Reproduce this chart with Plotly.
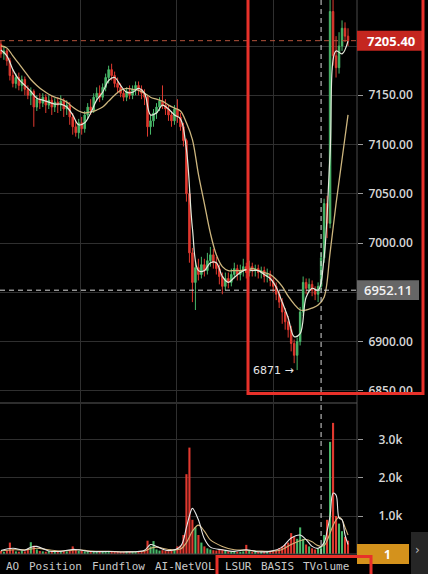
import plotly.graph_objects as go
from plotly.subplots import make_subplots

# ---- candle data (one bar per period) ----
opens = [7202, 7192, 7195, 7185, 7170, 7162, 7168, 7160, 7166, 7156,
         7150, 7154, 7138, 7146, 7142, 7148, 7140, 7145, 7138, 7143,
         7140, 7144, 7136, 7140, 7128, 7118, 7112, 7122, 7116, 7130,
         7138, 7135, 7148, 7152, 7148, 7158, 7168, 7176, 7170, 7162,
         7158, 7152, 7148, 7154, 7150, 7156, 7160, 7156, 7152, 7148,
         7118, 7124, 7132, 7138, 7144, 7140, 7136, 7130, 7124, 7136,
         7128, 7118, 7104, 7050, 6990, 6960, 6975, 6968, 6978, 6972,
         6982, 6988, 6980, 6974, 6966, 6956, 6964, 6960, 6968, 6974,
         6968, 6972, 6976, 6970, 6976, 6972, 6974, 6970, 6972, 6966,
         6968, 6962, 6956, 6948, 6940, 6930, 6920, 6912, 6898, 6886,
         6900, 6930, 6960, 6954, 6958, 6952, 6948, 6956, 6985, 7040,
         7020, 7235, 7190, 7178, 7200, 7218, 7210]
highs = [7206, 7199, 7197, 7188, 7176, 7172, 7173, 7170, 7169, 7160,
         7158, 7156, 7150, 7152, 7152, 7151, 7150, 7149, 7147, 7148,
         7150, 7147, 7145, 7143, 7132, 7124, 7126, 7128, 7134, 7142,
         7146, 7152, 7158, 7160, 7162, 7172, 7180, 7182, 7174, 7168,
         7162, 7156, 7158, 7160, 7160, 7164, 7164, 7160, 7156, 7150,
         7130, 7136, 7142, 7148, 7160, 7146, 7140, 7134, 7140, 7146,
         7132, 7122, 7106, 7054, 6995, 6982, 6984, 6986, 6984, 6990,
         6996, 6994, 6986, 6978, 6970, 6970, 6970, 6974, 6980, 6978,
         6978, 6984, 6980, 6982, 6980, 6978, 6978, 6976, 6976, 6974,
         6972, 6966, 6960, 6952, 6944, 6934, 6926, 6916, 6902, 6904,
         6935, 6966, 6964, 6964, 6962, 6956, 6960, 6990, 7045, 7048,
         7265, 7262, 7210, 7214, 7226, 7224, 7218]
lows = [7188, 7186, 7180, 7165, 7158, 7157, 7155, 7154, 7150, 7146,
        7140, 7118, 7134, 7136, 7138, 7132, 7136, 7130, 7133, 7132,
        7134, 7128, 7130, 7120, 7110, 7108, 7106, 7110, 7112, 7126,
        7130, 7132, 7144, 7143, 7145, 7154, 7162, 7165, 7158, 7152,
        7148, 7144, 7144, 7146, 7146, 7150, 7150, 7146, 7140, 7108,
        7110, 7118, 7126, 7134, 7136, 7130, 7124, 7118, 7120, 7122,
        7114, 7098, 7042, 6980, 6940, 6932, 6962, 6964, 6966, 6968,
        6976, 6974, 6968, 6958, 6948, 6952, 6954, 6956, 6964, 6962,
        6962, 6966, 6964, 6966, 6966, 6966, 6964, 6964, 6960, 6960,
        6956, 6950, 6942, 6934, 6918, 6912, 6904, 6890, 6878, 6871,
        6896, 6926, 6948, 6950, 6946, 6942, 6940, 6952, 6980, 7005,
        7015, 7180, 7168, 7172, 7195, 7204, 7200]
closes = [7192, 7195, 7185, 7170, 7162, 7168, 7160, 7166, 7156, 7150,
          7154, 7138, 7146, 7142, 7148, 7140, 7145, 7138, 7143, 7140,
          7144, 7136, 7140, 7128, 7118, 7112, 7122, 7116, 7130, 7138,
          7135, 7148, 7152, 7148, 7158, 7168, 7176, 7170, 7162, 7158,
          7152, 7148, 7154, 7150, 7156, 7160, 7156, 7152, 7148, 7118,
          7124, 7132, 7138, 7144, 7140, 7136, 7130, 7124, 7136, 7128,
          7118, 7104, 7050, 6990, 6960, 6975, 6968, 6978, 6972, 6982,
          6988, 6980, 6974, 6966, 6956, 6964, 6960, 6968, 6974, 6968,
          6972, 6976, 6970, 6976, 6972, 6974, 6970, 6972, 6966, 6968,
          6962, 6956, 6948, 6940, 6930, 6920, 6912, 6898, 6886, 6900,
          6930, 6960, 6954, 6958, 6952, 6948, 6956, 6985, 7040, 7020,
          7235, 7190, 7178, 7200, 7218, 7210, 7205.40]
volumes = [80, 60, 90, 300, 120, 70, 60, 90, 70, 110,
           310, 220, 120, 80, 70, 60, 80, 70, 60, 70,
           60, 80, 70, 90, 200, 110, 90, 80, 70, 60,
           60, 70, 60, 50, 60, 70, 80, 60, 50, 60,
           50, 60, 50, 60, 50, 60, 50, 70, 80, 350,
           200, 340, 120, 90, 100, 80, 70, 90, 110, 200,
           220, 500, 2100, 2800, 900, 700, 500, 300, 200, 150,
           120, 100, 90, 110, 120, 80, 70, 60, 70, 60,
           60, 70, 240, 80, 60, 60, 50, 60, 70, 60,
           70, 80, 100, 150, 200, 250, 300, 550, 450, 400,
           700, 400, 250, 200, 150, 120, 150, 200, 500, 900,
           2950, 3450, 1000, 800, 600, 450, 350]

# ---- moving averages on price (sampled every other bar) ----
ma_idx = list(range(0, 117, 2))
ma_fast = [7196, 7190, 7176, 7166, 7160, 7154, 7147, 7145, 7143, 7141,
           7141, 7138, 7130, 7120, 7122, 7132, 7145, 7153, 7165, 7168,
           7160, 7153, 7153, 7157, 7152, 7130, 7132, 7140, 7136, 7130,
           7126, 7095, 7015, 6972, 6972, 6980, 6980, 6966, 6960, 6965,
           6970, 6973, 6972, 6972, 6968, 6964, 6955, 6940, 6924, 6905,
           6908, 6945, 6954, 6952, 6985, 7090, 7195, 7192, 7205]
ma_slow = [7200, 7198, 7190, 7182, 7174, 7166, 7160, 7155, 7151, 7148,
           7146, 7143, 7138, 7134, 7132, 7133, 7135, 7138, 7144, 7150,
           7155, 7157, 7156, 7155, 7152, 7148, 7146, 7144, 7140, 7137,
           7134, 7122, 7105, 7070, 7040, 7010, 6988, 6976, 6972, 6972,
           6972, 6973, 6974, 6972, 6970, 6968, 6963, 6956, 6946, 6938,
           6932, 6932, 6934, 6937, 6945, 6990, 7040, 7085, 7130]

# ---- moving averages on volume ----
vma_idx = [0, 4, 8, 10, 12, 16, 20, 24, 26, 30, 36, 42, 48, 50, 52, 56, 60, 62,
           63, 64, 66, 68, 70, 74, 78, 82, 86, 90, 94, 97, 100, 102, 104, 106,
           108, 109, 110, 111, 112, 113, 114, 115, 116]
vma_fast = [90, 150, 100, 180, 200, 80, 70, 120, 110, 65, 65, 55, 100, 250,
            200, 90, 200, 700, 1000, 1200, 900, 400, 180, 110, 70, 110, 60,
            70, 180, 420, 500, 380, 200, 150, 300, 600, 1000, 1600, 1550,
            950, 900, 500, 250]
vma_slow = [80, 110, 110, 130, 150, 110, 80, 100, 110, 80, 70, 60, 80, 150,
            180, 120, 130, 300, 450, 600, 760, 600, 370, 200, 110, 100, 80,
            70, 120, 250, 350, 380, 320, 220, 220, 350, 550, 750, 900, 970,
            900, 700, 500]

# crosshair position
cross_idx = 107
cross_price = 6952.11

# price axis ticks; the ones under the price tags carry no label
price_ticks = [6850, 6900, 6950, 7000, 7050, 7100, 7150, 7200]
price_tick_hidden = [6950, 7200]

# tab labels along the bottom
tab_labels = ["AO", "Position", "Fundflow", "AI-NetVOL", "LSUR", "BASIS", "TVolume"]
tab_x_px = [4, 27, 90, 153, 223, 259, 301]

vol_ticks = [1000, 2000, 3000]
vol_tick_text = ["1.0k", "2.0k", "3.0k"]

GREEN = "#49b86a"
RED = "#e0392f"
idx = list(range(len(closes)))

fig = make_subplots(rows=2, cols=1, shared_xaxes=True, vertical_spacing=0.0)

fig.add_trace(go.Candlestick(
    x=idx, open=opens, high=highs, low=lows, close=closes,
    increasing=dict(line=dict(color=GREEN, width=1), fillcolor=GREEN),
    decreasing=dict(line=dict(color=RED, width=1), fillcolor=RED),
    whiskerwidth=0, showlegend=False, hoverinfo="skip"), row=1, col=1)

fig.add_trace(go.Scatter(x=ma_idx, y=ma_slow, mode="lines",
                         line=dict(color="#cdb67e", width=1.3, shape="spline"),
                         showlegend=False, hoverinfo="skip"), row=1, col=1)
fig.add_trace(go.Scatter(x=ma_idx, y=ma_fast, mode="lines",
                         line=dict(color="#e4eadb", width=1.2, shape="spline"),
                         showlegend=False, hoverinfo="skip"), row=1, col=1)

bar_colors = [GREEN if c >= o else RED for o, c in zip(opens, closes)]
fig.add_trace(go.Bar(x=idx, y=volumes, marker=dict(color=bar_colors, line=dict(width=0)),
                     width=0.7, showlegend=False, hoverinfo="skip"), row=2, col=1)
fig.add_trace(go.Scatter(x=vma_idx, y=vma_slow, mode="lines",
                         line=dict(color="#d2b47a", width=1.1, shape="spline"),
                         showlegend=False, hoverinfo="skip"), row=2, col=1)
fig.add_trace(go.Scatter(x=vma_idx, y=vma_fast, mode="lines",
                         line=dict(color="#e8e8e8", width=1.1, shape="spline"),
                         showlegend=False, hoverinfo="skip"), row=2, col=1)

W, H = 428, 574
PW = 357          # plot width in px
PH = 554          # plot height in px


def px_x(p):
    return p / PW


def px_y(p):
    return (PH - p) / PH


GRID = "#2f2f2f"
x_grid = [26.5, 58.8, 91.0]
fig.update_xaxes(range=[-0.3, 119.0], showticklabels=False, tickvals=x_grid,
                 showgrid=True, gridcolor=GRID, gridwidth=1, zeroline=False,
                 rangeslider_visible=False, showline=False, ticks="")

price_tick_text = ["" if t in price_tick_hidden else f"{t:.2f}" for t in price_ticks]
fig.update_yaxes(domain=[px_y(402), 1.0], range=[6838.6, 7246.7], side="right",
                 tickvals=price_ticks, ticktext=price_tick_text,
                 showgrid=True, gridcolor=GRID,
                 ticks="outside", ticklen=5, tickcolor="#9a9a9a", zeroline=False,
                 tickfont=dict(family="Open Sans", size=12, color="#d6d6d6", weight=600),
                 ticklabelstandoff=3, row=1, col=1)
fig.update_yaxes(domain=[0.0, px_y(404)], range=[0, 3947], side="right",
                 tickvals=vol_ticks, ticktext=vol_tick_text, showgrid=True,
                 gridcolor=GRID, ticks="outside", ticklen=5, tickcolor="#9a9a9a",
                 zeroline=False,
                 tickfont=dict(family="Open Sans", size=12, color="#d6d6d6", weight=600),
                 ticklabelstandoff=13, row=2, col=1)

last_price = closes[-1]
low_price = min(lows)
low_idx = lows.index(low_price)

shapes = [
    # right axis line
    dict(type="line", xref="paper", yref="paper", x0=1, x1=1, y0=0, y1=1,
         line=dict(color="#4a4a4a", width=1)),
    # panel separator
    dict(type="line", xref="paper", yref="paper", x0=0, x1=1, y0=px_y(403), y1=px_y(403),
         line=dict(color="#5a5a5a", width=1)),
    # volume panel bottom
    dict(type="line", xref="paper", yref="paper", x0=0, x1=1, y0=0, y1=0,
         line=dict(color="#4a4a4a", width=1)),
    # last price line
    dict(type="line", xref="paper", yref="y", x0=0, x1=1, y0=last_price, y1=last_price,
         line=dict(color="#b5533c", width=1, dash="5px,4px")),
    # crosshair
    dict(type="line", xref="paper", yref="y", x0=0, x1=1, y0=cross_price, y1=cross_price,
         line=dict(color="#d8d8d8", width=1, dash="5px,4px")),
    dict(type="line", xref="x", yref="paper", x0=cross_idx, x1=cross_idx, y0=0, y1=1,
         line=dict(color="#d8d8d8", width=1, dash="5px,4px")),
    # price tags
    dict(type="rect", xref="paper", yref="y", x0=1.0, x1=px_x(424),
         y0=last_price - 10.2, y1=last_price + 10.2, fillcolor="#c4261f", line=dict(width=0)),
    dict(type="rect", xref="paper", yref="y", x0=1.0, x1=px_x(419),
         y0=cross_price - 10.0, y1=cross_price + 10.0, fillcolor="#666666", line=dict(width=0)),
    # bottom-right controls
    dict(type="rect", xref="paper", yref="paper", x0=1.0, x1=px_x(409),
         y0=px_y(564), y1=px_y(544), fillcolor="#d4921c", line=dict(width=0)),
    dict(type="rect", xref="paper", yref="paper", x0=px_x(411), x1=px_x(430),
         y0=px_y(576), y1=px_y(532), fillcolor="#262626", line=dict(width=0)),
    # highlight frames
    dict(type="rect", xref="paper", yref="paper", x0=px_x(248), x1=px_x(423),
         y0=px_y(393.5), y1=px_y(-10), line=dict(color="#e8312a", width=3),
         fillcolor="rgba(0,0,0,0)"),
    dict(type="rect", xref="paper", yref="paper", x0=px_x(217), x1=px_x(371),
         y0=px_y(590), y1=px_y(556.5), line=dict(color="#e8312a", width=3),
         fillcolor="rgba(0,0,0,0)"),
]

annotations = [
    dict(xref="paper", yref="y", x=px_x(390.5), y=last_price, text=f"{last_price:.2f}",
         showarrow=False, xanchor="center", yanchor="middle",
         font=dict(family="Open Sans", size=13, color="#ffffff", weight=700)),
    dict(xref="paper", yref="y", x=px_x(388), y=cross_price, text=f"{cross_price:.2f}",
         showarrow=False, xanchor="center", yanchor="middle",
         font=dict(family="Open Sans", size=13, color="#f2f2f2", weight=600)),
    dict(xref="paper", yref="paper", x=px_x(388), y=px_y(554), text="1",
         showarrow=False, xanchor="center", yanchor="middle",
         font=dict(family="Open Sans", size=12, color="#ffffff", weight=700)),
    dict(xref="paper", yref="paper", x=px_x(417), y=px_y(550), text="›",
         showarrow=False, xanchor="center", yanchor="middle",
         font=dict(family="DejaVu Sans", size=12, color="#bbbbbb")),
    dict(xref="x", yref="y", x=low_idx, y=low_price, text=f"{low_price:.0f} →",
         showarrow=False, xanchor="right", yanchor="middle", xshift=-1,
         font=dict(family="DejaVu Sans", size=11, color="#e6e6e6")),
]
for label, xp in zip(tab_labels, tab_x_px):
    annotations.append(dict(xref="paper", yref="paper", x=px_x(xp), y=px_y(567),
                            text=label, showarrow=False, xanchor="left", yanchor="middle",
                            font=dict(family="DejaVu Sans Mono", size=11, color="#c9c9c9")))

fig.update_layout(
    width=W, height=H,
    margin=dict(l=0, r=W - PW, t=0, b=H - PH, pad=0),
    paper_bgcolor="#000000", plot_bgcolor="#000000",
    showlegend=False, hovermode=False, bargap=0.2,
    shapes=shapes, annotations=annotations,
)

fig.write_html("out.html")
